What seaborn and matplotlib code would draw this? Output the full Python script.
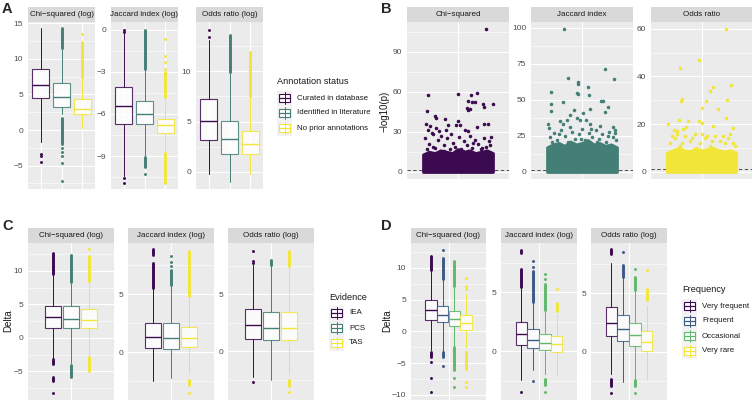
import matplotlib
matplotlib.use("Agg")
import matplotlib.pyplot as plt
from matplotlib.patches import Rectangle
import numpy as np
import seaborn as sns

W, H = 754, 404

# ── facet names ──────────────────────────────────────────────
STRIPS_LOG = ["Chi\u2212squared (log)", "Jaccard index (log)", "Odds ratio (log)"]
STRIPS_P = ["Chi\u2212squared", "Jaccard index", "Odds ratio"]

PURPLE, TEAL, YELLOW = "#3c0a50", "#447f77", "#f2e639"
BLUE, GREEN = "#3d5a86", "#5fb86b"

# ── A: annotation status (box summaries per facet x group) ──
A_GROUPS = ["Curated in database", "Identified in literature", "No prior annotations"]
A_TICKS = [[-5, 0, 5, 10, 15], [-9, -6, -3, 0], [0, 5, 10]]
A_LIMS = [(-8.3, 15.2), (-11.35, 0.55), (-1.7, 14.9)]
A_LO = [[-1.7, 2.3, 0.3], [-10.4, -9.0, -8.7], [-0.2, -1.0, -0.2]]
A_Q1 = [[4.45, 3.3, 2.2], [-6.7, -6.7, -7.37], [3.2, 1.82, 1.82]]
A_MED = [[6.3, 4.7, 3.0], [-5.45, -6.0, -6.8], [5.07, 3.25, 2.75]]
A_Q3 = [[8.6, 6.6, 4.4], [-4.07, -5.07, -6.35], [7.2, 5.07, 4.04]]
A_HI = [[14.3, 11.5, 7.4], [-0.25, -2.75, -4.8], [13.1, 9.9, 7.45]]
A_PTS = [[[-3.4, -3.7, -4.5], [-2.6, -3.1, -3.6, -4.6, -7.2], [13.5]],
         [[0.0, -0.15, -10.6, -10.9], [-10.3], [-0.67, -1.9, -2.3, -2.8]],
         [[14.1, 13.4], [], []]]
A_RUNS = [[[], [(11.6, 14.3), (-2.0, 1.7)], [(7.5, 12.4)]],
          [[], [(-2.8, 0.0), (-9.8, -9.1)], [(-4.8, -3.0), (-10.9, -8.8)]],
          [[], [(9.9, 13.6)], [(7.5, 11.9)]]]

# ── B: -log10(p) jitter ─────────────────────────────────────
B_TICKS = [[0, 30, 60, 90], [0, 25, 50, 75, 100], [0, 20, 40, 60]]
B_LIMS = [(-5.35, 112.3), (-4.95, 104.0), (-3.0, 62.8)]
B_BLOCK_TOP = [[13, 15, 14, 16, 15, 14, 17, 15, 16, 14, 15, 16, 14],
               [17, 19, 20, 18, 21, 19, 20, 22, 19, 20, 18, 19, 17],
               [8, 9, 10, 9, 8.5, 10, 9, 9.5, 10, 9, 8.5, 9, 8]]
B_CHI_X = [0.33, -0.35, 0.0, 0.15, 0.22, 0.12, 0.16, 0.2, 0.29, 0.31, 0.41, 0.1, 0.12,
           0.14, -0.36, -0.27, -0.26, -0.15, 0.0, -0.38, 0.31, 0.35, -0.33, -0.26, -0.12,
           -0.02, 0.02, -0.35, -0.22, -0.14, 0.08, 0.12, 0.22,
           -0.39, -0.34, -0.3, -0.27, -0.24, -0.2, -0.17, -0.13, -0.1, -0.06, -0.03, 0.01,
           0.04, 0.07, 0.1, 0.14, 0.17, 0.2, 0.24, 0.27, 0.3, 0.33, 0.36, 0.39, -0.37,
           -0.29, -0.21, -0.08, 0.06, 0.18, 0.28, 0.38, -0.16, 0.12, -0.31]
B_CHI_Y = [107, 57.4, 58.1, 57.4, 59.1, 52.9, 52.6, 52.1, 51.1, 48.6, 51.1, 47.9, 46.6,
           47.1, 45.9, 41.6, 40.4, 39.9, 37.9, 35.9, 35.9, 36.2, 34.2, 32.9, 34.9,
           35.4, 35.4, 31.2, 30.4, 31.7, 31.7, 30.4, 33.4,
           25, 21, 28, 18, 24, 27, 20, 25, 17, 22, 19, 26, 17, 23, 20, 27, 18, 24, 21,
           17, 25, 19, 23, 26, 17, 19, 16, 28, 16, 22, 18, 20, 16, 16, 29]
B_JAC_X = [-0.21, -0.16, -0.05, -0.05, -0.06, -0.05, 0.07, 0.08, 0.27, 0.38, 0.22, 0.25,
           0.31, 0.27, -0.36, -0.36, -0.37, -0.22, -0.1, -0.14, 0.01, 0.09, -0.26, -0.22,
           -0.18, -0.4, -0.39, -0.06, -0.02, 0.05, 0.09, 0.21, 0.39, 0.39,
           -0.38, -0.33, -0.29, -0.25, -0.2, -0.16, -0.12, -0.08, -0.04, 0.0, 0.04, 0.08,
           0.12, 0.16, 0.2, 0.24, 0.28, 0.32, 0.36, 0.4, -0.35, -0.27, -0.14, -0.01, 0.1,
           0.18, 0.3, 0.37]
B_JAC_Y = [99.1, 64.9, 62.1, 61.2, 54.7, 54.3, 58.9, 53.3, 71.1, 64.4, 49.4, 49.4,
           45.0, 41.3, 55.2, 47.3, 42.0, 48.3, 43.2, 39.7, 40.9, 43.6, 35.1, 33.3,
           36.3, 33.3, 30.5, 37.4, 36.3, 35.8, 33.5, 31.6, 28.9, 27.0,
           24, 27, 22, 29, 25, 21, 28, 23, 26, 30, 22, 27, 24, 29, 23, 26, 21, 28, 24,
           22, 21, 26, 31, 23, 30, 21, 25, 31]
B_ODD_X = [0.29, -0.03, -0.25, 0.35, 0.14, 0.1, -0.23, -0.24, 0.3, 0.05, 0.0, 0.2,
           0.29, -0.27, -0.16, -0.4, -0.03, 0.0, 0.37, 0.14, -0.18, -0.22, -0.33, -0.29,
           -0.38, -0.32, -0.26, -0.2, -0.14, -0.08, -0.02, 0.04, 0.1, 0.16, 0.22, 0.28,
           0.34, 0.4, -0.35, -0.23, -0.11, 0.01, 0.13, 0.25, 0.37, -0.29, 0.07, 0.31]
B_ODD_Y = [59.8, 46.7, 43.5, 36.4, 35.6, 33.8, 30.5, 29.8, 30.3, 29.6, 26.8, 26.4,
           22.5, 21.9, 21.2, 20.2, 21.2, 20.5, 18.4, 19.1, 18.8, 18.0, 17.7, 17.0,
           12, 14, 11, 15, 13, 16, 12, 14, 11, 15, 13, 12, 16, 11, 15, 12, 14, 16, 13,
           15, 12, 16, 15, 14]

# ── C: evidence ─────────────────────────────────────────────
C_GROUPS = ["IEA", "PCS", "TAS"]
C_TICKS = [[-5, 0, 5, 10], [0, 5], [0, 5]]
C_LIMS = [(-9.27, 14.15), (-4.1, 9.4), (-4.3, 9.5)]
C_LO = [[-3.04, -3.8, -2.5], [-2.5, -2.24, -1.8], [-2.3, -2.5, -2.0]]
C_Q1 = [[1.54, 1.4, 1.44], [0.4, 0.26, 0.5], [1.1, 1.0, 0.97]]
C_MED = [[3.04, 2.84, 2.7], [1.35, 1.26, 1.2], [2.3, 2.06, 2.06]]
C_Q3 = [[4.8, 4.7, 4.3], [2.5, 2.56, 2.2], [3.7, 3.4, 3.4]]
C_HI = [[9.4, 8.2, 8.4], [5.5, 5.8, 4.8], [7.6, 7.6, 7.5]]
C_PTS = [[[-8.2], [], [13.2]],
         [[], [8.25, 7.8, 7.4], [-3.5]],
         [[8.8, 7.9, 7.75, -2.7], [], [-3.6]]]
C_RUNS = [[[(9.5, 12.7), (-3.9, -3.2), (-6.5, -5.8)], [(8.3, 12.4), (-5.8, -4.0)],
           [(8.5, 12.2), (-5.0, -2.8)]],
          [[(8.4, 8.9), (5.5, 7.7)], [(5.8, 7.1)], [(4.8, 8.7), (-2.8, -2.4)]],
          [[], [(7.6, 8.0)], [(7.5, 8.8), (-3.1, -2.56)]]]

# ── D: frequency ────────────────────────────────────────────
D_GROUPS = ["Very frequent", "Frequent", "Occasional", "Very rare"]
D_TICKS = [[-10, -5, 0, 5, 10], [0, 5], [0, 5]]
D_LIMS = [(-10.8, 13.9), (-4.15, 9.2), (-4.1, 9.3)]
D_LO = [[-2.9, -3.2, -2.3, -2.4], [-2.45, -1.6, -1.9, -2.0], [-1.86, -2.57, -2.3, -2.37]]
D_Q1 = [[1.84, 1.42, 0.9, 0.16], [0.5, 0.3, 0.06, -0.06], [1.34, 0.9, 0.51, 0.09]]
D_MED = [[3.4, 2.63, 1.95, 1.3], [1.45, 0.97, 0.68, 0.6], [2.49, 2.0, 1.49, 0.86]]
D_Q3 = [[5.0, 4.05, 3.16, 2.5], [2.5, 1.9, 1.45, 1.3], [3.86, 3.14, 2.49, 1.77]]
D_HI = [[9.7, 8.2, 7.1, 5.9], [5.5, 4.2, 3.5, 3.1], [7.6, 6.4, 5.3, 3.9]]
D_PTS = [[[-4.8, -7.4, -9.6], [12.8, -5.5], [-7.4, -8.7], [8.4, 7.2, 6.6, -7.9, -8.8]],
         [[-3.5], [7.7, 7.2, -2.5], [6.6, 6.1, -3.5], [5.3]],
         [[-3.5], [8.5], [7.1, -3.5], [7.0]]]
D_RUNS = [[[(9.7, 11.8), (-4.1, -3.2)], [(8.2, 11.6), (-4.0, -3.3)],
           [(7.1, 11.1), (-6.1, -2.4)], [(-5.9, -3.2)]],
          [[(8.35, 8.6), (5.5, 7.0)], [(4.2, 6.8)], [(3.5, 5.7), (-2.9, -2.4)], [(3.4, 4.1)]],
          [[(8.4, 8.8), (-2.9, -2.3)], [(6.4, 7.4)], [(5.3, 6.4), (-2.9, -2.4)], [(4.4, 5.4)]]]

# ── style ───────────────────────────────────────────────────
sns.set_theme(style="darkgrid")
plt.rcParams["font.family"] = ["Liberation Sans", "DejaVu Sans"]
BG, STRIP = "#EBEBEB", "#D9D9D9"
TICK_FS, STRIP_FS = 6.0, 5.8

fig = plt.figure(figsize=(W / 100, H / 100), dpi=100)
fig.patch.set_facecolor("white")


def px_axes(x0, y0, x1, y1):
    return fig.add_axes([x0 / W, 1 - y1 / H, (x1 - x0) / W, (y1 - y0) / H])


def facet(x0, x1, y_strip, y0, y1, title, ticks, lims, xt, xlim):
    s = px_axes(x0, y_strip, x1, y0)
    s.set_facecolor(STRIP)
    s.set_xticks([]); s.set_yticks([])
    for sp in s.spines.values():
        sp.set_visible(False)
    s.text(0.5, 0.5, title, ha="center", va="center", fontsize=STRIP_FS,
           color="#1A1A1A", transform=s.transAxes)
    ax = px_axes(x0, y0, x1, y1)
    ax.set_facecolor(BG)
    for sp in ax.spines.values():
        sp.set_visible(False)
    ax.set_ylim(*lims)
    ax.set_xlim(*xlim)
    ax.set_yticks(ticks)
    step = ticks[1] - ticks[0] if len(ticks) > 1 else 5
    mn = np.arange(ticks[0] - step / 2, ticks[-1] + step, step)
    ax.set_yticks([m for m in mn if lims[0] < m < lims[1]], minor=True)
    ax.set_xticks(xt)
    ax.set_xticklabels([""] * len(xt))
    ax.grid(which="major", color="white", lw=0.8)
    ax.grid(which="minor", axis="y", color="white", lw=0.4)
    ax.tick_params(which="major", length=2.2, width=0.5, color="#333333",
                   labelsize=TICK_FS, labelcolor="#4D4D4D", pad=1.2)
    ax.tick_params(which="minor", length=0)
    ax.set_axisbelow(True)
    return ax


def boxes(ax, pos, width, lo, q1, med, q3, hi, pts, runs, colors):
    for i, c in enumerate(colors):
        st = dict(whislo=lo[i], q1=q1[i], med=med[i], q3=q3[i], whishi=hi[i], fliers=[])
        for a, b in runs[i]:
            ax.plot([pos[i], pos[i]], [a, b], color=c, lw=2.1,
                    solid_capstyle="round", zorder=2)
        if pts[i]:
            ax.scatter([pos[i]] * len(pts[i]), pts[i], color=c, s=4.5, lw=0, zorder=2)
        ax.bxp([st], positions=[pos[i]], widths=width, showfliers=False,
               showcaps=False, patch_artist=True, manage_ticks=False,
               boxprops=dict(facecolor="white", edgecolor=c, lw=0.8, alpha=0.85),
               whiskerprops=dict(color=c, lw=0.7),
               medianprops=dict(color=c, lw=1.0), zorder=3)


def legend(title, labels, colors, x, y_title, y_rows, x_lab):
    fig.text(x / W, 1 - y_title / H, title, fontsize=6.6, color="#1A1A1A",
             ha="left", va="center")
    for lab, c, yc in zip(labels, colors, y_rows):
        k = px_axes(x, yc - 7.5, x + 15, yc + 7.5)
        k.set_facecolor("#F2F2F2")
        k.set_xlim(0, 1); k.set_ylim(0, 1)
        k.set_xticks([]); k.set_yticks([])
        k.grid(False)
        for sp in k.spines.values():
            sp.set_visible(False)
        k.plot([0.5, 0.5], [0.08, 0.92], color=c, lw=0.7)
        k.add_patch(Rectangle((0.12, 0.25), 0.76, 0.5, facecolor="white",
                              edgecolor=c, lw=0.8))
        k.plot([0.12, 0.88], [0.5, 0.5], color=c, lw=0.9)
        fig.text(x_lab / W, 1 - yc / H, lab, fontsize=5.7, color="#1A1A1A",
                 ha="left", va="center")


def panel_letter(ch, x, y):
    fig.text(x / W, 1 - y / H, ch, fontsize=10.5, fontweight="bold",
             ha="left", va="center")


# ── panel A ─────────────────────────────────────────────────
A_COLORS = [PURPLE, TEAL, YELLOW]
for m, (x0, x1) in enumerate([(28, 95), (111, 178), (196, 263)]):
    ax = facet(x0, x1, 7, 22, 189, STRIPS_LOG[m], A_TICKS[m], A_LIMS[m],
               [1, 2, 3], (0.4, 3.6))
    boxes(ax, [1, 2, 3], 0.78, A_LO[m], A_Q1[m], A_MED[m], A_Q3[m], A_HI[m],
          A_PTS[m], A_RUNS[m], A_COLORS)
legend("Annotation status", A_GROUPS, A_COLORS, 277, 81, [98, 113, 128], 297)
panel_letter("A", 2, 9)

# ── panel B ─────────────────────────────────────────────────
B_XS = [B_CHI_X, B_JAC_X, B_ODD_X]
B_YS = [B_CHI_Y, B_JAC_Y, B_ODD_Y]
for m, (x0, x1) in enumerate([(407, 509), (531, 633), (651, 752)]):
    ax = facet(x0, x1, 7, 22, 179, STRIPS_P[m], B_TICKS[m], B_LIMS[m], [1], (0.4, 1.6))
    c = A_COLORS[m]
    ax.axhline(-np.log10(0.05), color="#333333", lw=0.6, ls=(0, (4, 3)), zorder=1)
    top = B_BLOCK_TOP[m]
    bx = 1 + np.linspace(-0.41, 0.41, len(top))
    ax.fill_between(bx, 0, top, color=c, lw=2.2, edgecolor=c, zorder=2)
    sns.scatterplot(x=1 + np.array(B_XS[m]), y=B_YS[m], color=c, s=6.5, linewidth=0,
                    ax=ax, legend=False, zorder=3)
    ax.set_xlabel(""); ax.set_ylabel("")
fig.text(385 / W, 1 - 111 / H, "\u2212log10(p)", rotation=90, fontsize=7,
         ha="center", va="center", color="#1A1A1A")
panel_letter("B", 381, 9)

# ── panel C ─────────────────────────────────────────────────
for m, (x0, x1) in enumerate([(28, 114), (128, 214), (228, 314)]):
    ax = facet(x0, x1, 228, 243, 400, STRIPS_LOG[m], C_TICKS[m], C_LIMS[m], [1], (0.4, 1.6))
    boxes(ax, [0.75, 1.0, 1.25], 0.23, C_LO[m], C_Q1[m], C_MED[m], C_Q3[m], C_HI[m],
          C_PTS[m], C_RUNS[m], A_COLORS)
legend("Evidence", C_GROUPS, A_COLORS, 329, 297, [313, 328, 343], 349)
fig.text(8 / W, 1 - 321 / H, "Delta", rotation=90, fontsize=7,
         ha="center", va="center", color="#1A1A1A")
panel_letter("C", 2, 226)

# ── panel D ─────────────────────────────────────────────────
D_COLORS = [PURPLE, BLUE, GREEN, YELLOW]
for m, (x0, x1) in enumerate([(411, 486), (501, 577), (591, 667)]):
    ax = facet(x0, x1, 228, 243, 400, STRIPS_LOG[m], D_TICKS[m], D_LIMS[m], [1], (0.4, 1.6))
    boxes(ax, [0.72, 0.906, 1.094, 1.28], 0.18, D_LO[m], D_Q1[m], D_MED[m], D_Q3[m],
          D_HI[m], D_PTS[m], D_RUNS[m], D_COLORS)
legend("Frequency", D_GROUPS, D_COLORS, 682, 289, [306, 321, 336, 351], 702)
fig.text(387 / W, 1 - 321 / H, "Delta", rotation=90, fontsize=7,
         ha="center", va="center", color="#1A1A1A")
panel_letter("D", 381, 226)

fig.savefig("out.png", dpi=100)
